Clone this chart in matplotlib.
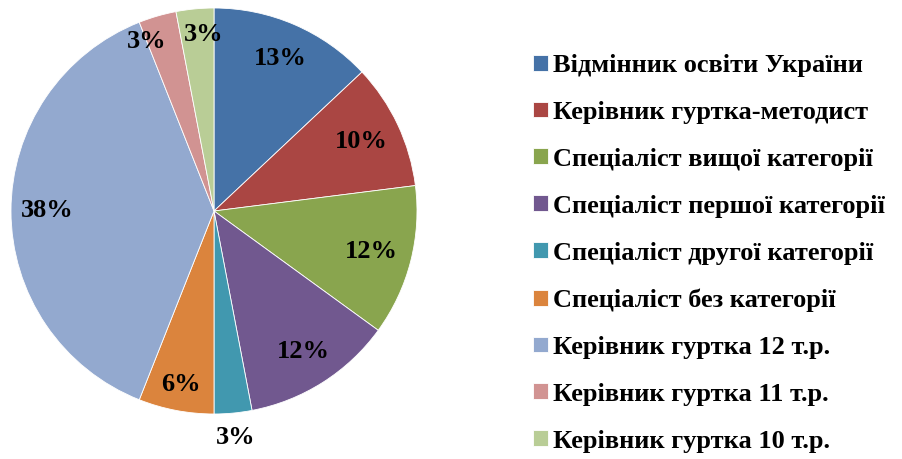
import numpy as np
import matplotlib
matplotlib.use("Agg")
import matplotlib.pyplot as plt

plt.rcParams["font.family"] = ["Liberation Serif", "DejaVu Serif"]
plt.rcParams["font.weight"] = "bold"

# categories and shares (%)
CATEGORIES = [
    "Відмінник освіти України",
    "Керівник гуртка-методист",
    "Спеціаліст вищої категорії",
    "Спеціаліст першої категорії",
    "Спеціаліст другої категорії",
    "Спеціаліст без категорії",
    "Керівник гуртка 12 т.р.",
    "Керівник гуртка 11 т.р.",
    "Керівник гуртка 10 т.р.",
]
SHARES = [13, 10, 12, 12, 3, 6, 38, 3, 3]
COLORS = ["#4572A7", "#AA4643", "#89A54E", "#71588F", "#4198AF",
          "#DB843D", "#93A9CF", "#D19392", "#B9CD96"]

# label placement: fraction of radius and small angular nudge (deg)
LABEL_DIST = [0.82, 0.80, 0.80, 0.82, 1.12, 0.87, 0.82, 0.90, 0.87]
LABEL_NUDGE = [0, 0, 0, 0, 0, 0, 0, 5.3, -2.1]

fig = plt.figure(figsize=(9.02, 4.59), dpi=100)
ax = fig.add_axes([11 / 902, 45 / 459, 406 / 902, 406 / 459])

wedges, _ = ax.pie(SHARES, colors=COLORS, startangle=90, counterclock=False,
                   radius=1.0, wedgeprops=dict(edgecolor="white", linewidth=0.6))

for w, share, d, nd in zip(wedges, SHARES, LABEL_DIST, LABEL_NUDGE):
    mid = np.deg2rad((w.theta1 + w.theta2) / 2 + nd)
    x, y = d * np.cos(mid), d * np.sin(mid)
    ax.text(x, y, f"{share}%", ha="center", va="center", fontsize=19,
            fontweight="bold", color="black", clip_on=False)

ax.set_xlim(-1, 1)
ax.set_ylim(-1, 1)
ax.set_aspect("equal")
ax.axis("off")

fig.legend(wedges, CATEGORIES, loc="upper left", bbox_to_anchor=(533 / 902, 1 - 54 / 459),
           frameon=False, handlelength=0.55, handleheight=0.55,
           handletextpad=0.2, labelspacing=0.905, borderpad=0, borderaxespad=0,
           prop=dict(weight="bold", size=19))

fig.savefig("out.png", dpi=100)
